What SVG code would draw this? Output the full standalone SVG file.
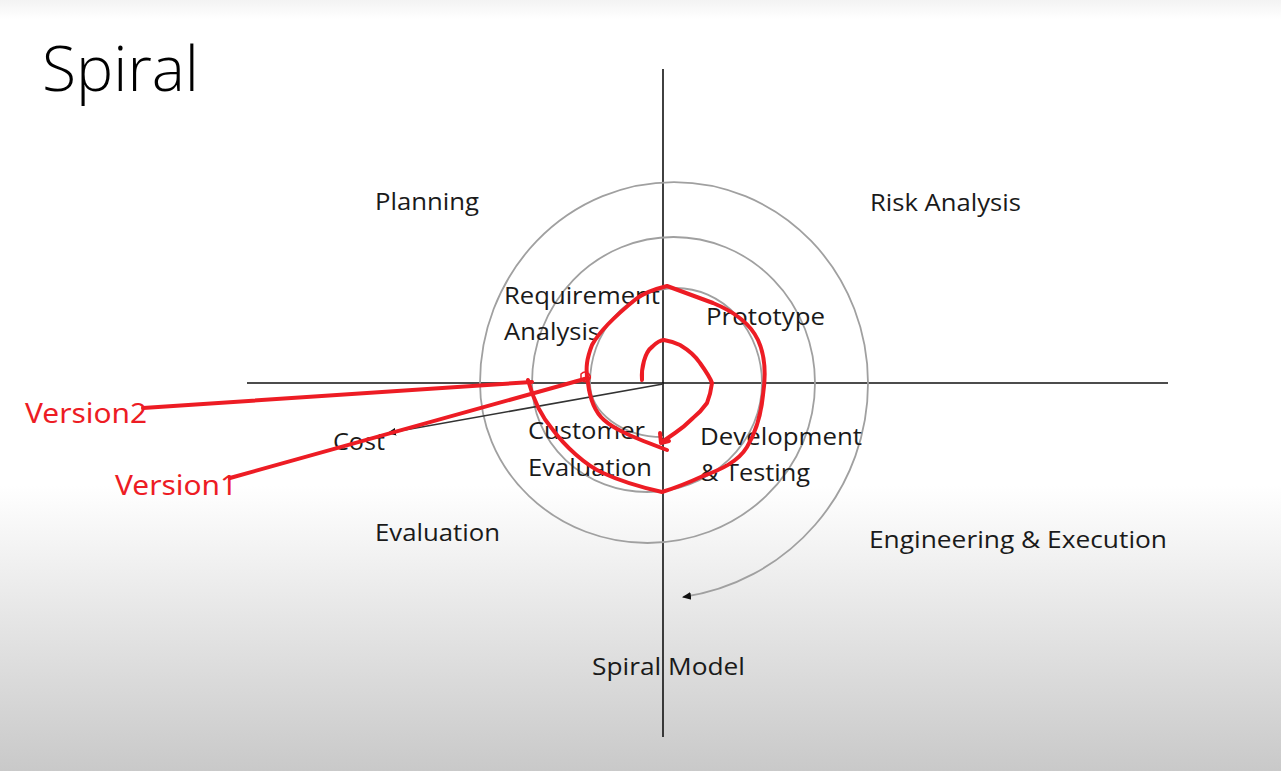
<svg xmlns="http://www.w3.org/2000/svg" width="1281" height="771" viewBox="0 0 1281 771">
<defs>
<linearGradient id="bg" x1="0" y1="0" x2="0" y2="771" gradientUnits="userSpaceOnUse">
<stop offset="0" stop-color="#f3f3f3"/>
<stop offset="0.025" stop-color="#ffffff"/>
<stop offset="0.63" stop-color="#ffffff"/>
<stop offset="0.8" stop-color="#e6e6e6"/>
<stop offset="1" stop-color="#c9c9c9"/>
</linearGradient>
<marker id="ah" markerWidth="10" markerHeight="10" refX="8" refY="5" orient="auto" markerUnits="userSpaceOnUse">
<path d="M0,1 L9,5 L0,9 Z" fill="#111"/>
</marker>
<style>
.lbl{font-family:"Open Sans","Noto Sans","Liberation Sans",sans-serif;font-size:24px;fill:#1a1a1a}
.red{font-family:"Noto Sans","Liberation Sans",sans-serif;font-size:27px;fill:#ed1c24}
.axis{stroke:#111;stroke-width:1.6;fill:none}
.arc{stroke:#a0a0a0;stroke-width:1.8;fill:none}
.ink{stroke:#ed1c24;stroke-width:4;fill:none;stroke-linecap:round;stroke-linejoin:round}
</style>
</defs>
<rect width="1281" height="771" fill="url(#bg)"/>
<text x="42" y="91" font-family="'Open Sans','Noto Sans',sans-serif" font-weight="300" font-size="62" fill="#000" textLength="157" lengthAdjust="spacingAndGlyphs">Spiral</text>

<g id="axes">
<line class="axis" x1="663" y1="69" x2="663" y2="737"/>
<line class="axis" x1="247" y1="383" x2="1168" y2="383"/>
</g>

<g id="spiral">
<path class="arc" d="M663,437 A73 54 0 0 1 590,383"/>
<path class="arc" d="M590,383 A86 95 0 0 1 762,383"/>
<path class="arc" d="M762,383 A115 109 0 0 1 532,383"/>
<path class="arc" d="M532,383 A141.5 146 0 0 1 815,383"/>
<path class="arc" d="M815,383 A167.5 160 0 0 1 480,383"/>
<path class="arc" d="M480,383 A194 201 0 0 1 868,383"/>
<path class="arc" d="M868,383 A216 216 0 0 1 683,597" marker-end="url(#ah)"/>
</g>

<g id="cost-arrow">
<line x1="663" y1="384" x2="388" y2="433" stroke="#333" stroke-width="1.6" marker-end="url(#ah)"/>
</g>

<g id="labels">
<text class="lbl" x="375" y="210" textLength="104" lengthAdjust="spacingAndGlyphs">Planning</text>
<text class="lbl" x="870" y="211" textLength="151" lengthAdjust="spacingAndGlyphs">Risk Analysis</text>
<text class="lbl" x="504" y="304" textLength="156" lengthAdjust="spacingAndGlyphs">Requirement</text>
<text class="lbl" x="504" y="340" textLength="96" lengthAdjust="spacingAndGlyphs">Analysis</text>
<text class="lbl" x="706" y="325" textLength="119" lengthAdjust="spacingAndGlyphs">Prototype</text>
<text class="lbl" x="528" y="439" textLength="117" lengthAdjust="spacingAndGlyphs">Customer</text>
<text class="lbl" x="528" y="476" textLength="124" lengthAdjust="spacingAndGlyphs">Evaluation</text>
<text class="lbl" x="700" y="445" textLength="162" lengthAdjust="spacingAndGlyphs">Development</text>
<text class="lbl" x="700" y="481" textLength="110" lengthAdjust="spacingAndGlyphs">&amp; Testing</text>
<text class="lbl" x="333" y="450" textLength="52" lengthAdjust="spacingAndGlyphs">Cost</text>
<text class="lbl" x="375" y="541" textLength="125" lengthAdjust="spacingAndGlyphs">Evaluation</text>
<text class="lbl" x="869" y="548" textLength="298" lengthAdjust="spacingAndGlyphs">Engineering &amp; Execution</text>
<text class="lbl" x="592" y="675" textLength="153" lengthAdjust="spacingAndGlyphs">Spiral Model</text>
</g>

<g id="annotations">
<path class="ink" d="M143,408 L532,382"/>
<path class="ink" d="M230,478 L588,378"/>
<path d="M581,374 q4,-4 8,0 q3,4 -1,7 q-5,2 -7,-2 z" fill="none" stroke="#ed1c24" stroke-width="1.5"/>
<path class="ink" d="M528,380 C532,395 540,415 553,430 C565,446 585,465 603,473 C620,481 640,487 662,492 C675,488 690,482 703,476 C720,470 738,462 747,447 C756,432 761,415 763,395 C766,375 765,355 758,340 C750,323 735,312 713,303 L667,286 C655,289 645,292 636,299 C620,312 600,330 592,345 C587,358 585,368 588,383 C590,400 595,412 604,420 C615,430 635,438 667,450"/>
<path class="ink" d="M642,380 C641,368 645,352 652,347 C656,343 660,340 664,340 C670,341 676,343 680,345 C690,351 696,357 700,363 C705,370 710,377 712,383 C711,391 709,398 707,403 C702,410 698,414 693,418 C687,424 681,429 675,433 L662,442"/>
<path class="ink" d="M660,433 L661,443 L669,441"/>
<text class="red" x="25" y="423" textLength="122" lengthAdjust="spacingAndGlyphs">Version2</text>
<text class="red" x="115" y="495" textLength="122" lengthAdjust="spacingAndGlyphs">Version1</text>
</g>
</svg>
